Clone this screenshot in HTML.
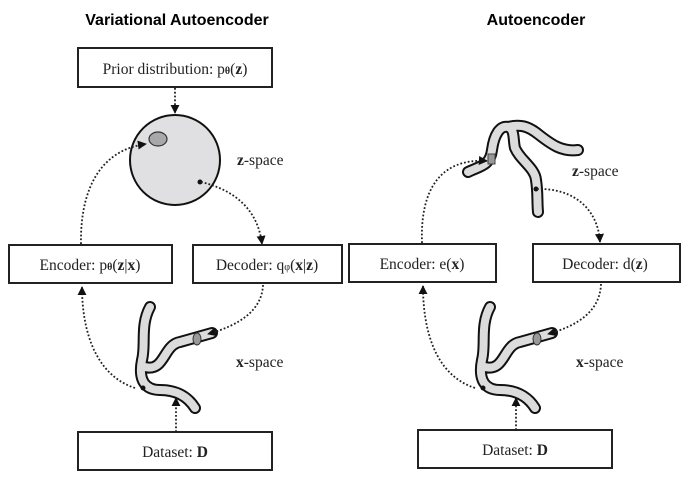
<!DOCTYPE html>
<html><head><style>
body{margin:0;background:#fff;}
svg{display:block;}
.t{font-family:"Liberation Serif",serif;font-size:15.5px;fill:#222;}
.h{font-family:"Liberation Sans",sans-serif;font-size:16px;font-weight:bold;fill:#000;}
.b{fill:#fff;stroke:#222;stroke-width:2;}
.d{fill:none;stroke:#222;stroke-width:1.8;stroke-dasharray:1.8 2;}
</style></head><body>
<svg width="688" height="480" viewBox="0 0 688 480">
<defs><marker id="a" viewBox="0 0 10 10" refX="9" refY="5" markerWidth="5" markerHeight="5" orient="auto"><path d="M0,0L10,5L0,10z" fill="#111"/></marker></defs>
<text class="h" x="177" y="25" text-anchor="middle">Variational Autoencoder</text>
<text class="h" x="536" y="25" text-anchor="middle">Autoencoder</text>

<!-- left -->
<rect class="b" x="78" y="48" width="194" height="39"/>
<text class="t" x="175" y="74" text-anchor="middle">Prior distribution: p<tspan font-size="10" font-weight="bold">θ</tspan>(<tspan font-weight="bold">z</tspan>)</text>
<path class="d" d="M175,88 V113" marker-end="url(#a)"/>
<circle cx="175" cy="160" r="45" fill="#e0e0e2" stroke="#111" stroke-width="2"/>
<ellipse cx="158" cy="139" rx="9" ry="7" fill="#a8a8a8" stroke="#333" stroke-width="1.2"/>
<circle cx="200" cy="182" r="2.5" fill="#111"/>
<text class="t" x="237" y="165"><tspan font-weight="bold">z</tspan>-space</text>
<path class="d" d="M81,244 C80,190 100,150 146,144" marker-end="url(#a)"/>
<path class="d" d="M201,182 C235,190 258,210 262,244" marker-end="url(#a)"/>
<rect class="b" x="9" y="245" width="163" height="38"/>
<text class="t" x="90" y="270" text-anchor="middle">Encoder: p<tspan font-size="10" font-weight="bold">θ</tspan>(<tspan font-weight="bold">z</tspan>|<tspan font-weight="bold">x</tspan>)</text>
<rect class="b" x="193" y="245" width="149" height="38"/>
<text class="t" x="267" y="270" text-anchor="middle">Decoder: q<tspan font-size="10">φ</tspan>(<tspan font-weight="bold">x</tspan>|<tspan font-weight="bold">z</tspan>)</text>
<g fill="none" stroke-linecap="round">
<path d="M150,307 C140,325 146,345 142,360 C138,380 145,390 160,390 C180,390 190,400 195,408 M145,367 C165,372 163,345 180,342 L212,333" stroke="#111" stroke-width="12"/>
<path d="M150,307 C140,325 146,345 142,360 C138,380 145,390 160,390 C180,390 190,400 195,408 M145,367 C165,372 163,345 180,342 L212,333" stroke="#dcdcdc" stroke-width="8"/>
</g>
<ellipse cx="197" cy="339" rx="4" ry="6" fill="#999" stroke="#333"/>
<circle cx="143" cy="388" r="2.5" fill="#111"/>
<path class="d" d="M263,285 C262,310 240,325 208,334" marker-end="url(#a)"/>
<path class="d" d="M135,388 C95,375 82,330 82,287" marker-end="url(#a)"/>
<path class="d" d="M176,432 V398" marker-end="url(#a)"/>
<text class="t" x="236" y="367"><tspan font-weight="bold">x</tspan>-space</text>
<rect class="b" x="78" y="432" width="194" height="38"/>
<text class="t" x="175" y="457" text-anchor="middle">Dataset: <tspan font-weight="bold">D</tspan></text>

<!-- right -->
<g fill="none" stroke-linecap="round">
<path d="M468,172 C480,166 490,166 492,150 C494,135 500,125 508,127 C515,129 513,140 515,148 C520,160 535,168 536,180 C538,192 537,202 538,212 M508,127 C520,124 528,126 538,134 C552,145 562,152 578,150" stroke="#111" stroke-width="12"/>
<path d="M468,172 C480,166 490,166 492,150 C494,135 500,125 508,127 C515,129 513,140 515,148 C520,160 535,168 536,180 C538,192 537,202 538,212 M508,127 C520,124 528,126 538,134 C552,145 562,152 578,150" stroke="#dcdcdc" stroke-width="8"/>
</g>
<rect x="488" y="154" width="7" height="10" fill="#999" stroke="#444"/>
<circle cx="536" cy="189" r="2.5" fill="#111"/>
<text class="t" x="572" y="176"><tspan font-weight="bold">z</tspan>-space</text>
<path class="d" d="M422,243 C420,190 440,158 487,161" marker-end="url(#a)"/>
<path class="d" d="M537,189 C575,188 598,210 600,242" marker-end="url(#a)"/>
<rect class="b" x="349" y="244" width="147" height="38"/>
<text class="t" x="422" y="269" text-anchor="middle">Encoder: e(<tspan font-weight="bold">x</tspan>)</text>
<rect class="b" x="533" y="244" width="147" height="38"/>
<text class="t" x="605" y="269" text-anchor="middle">Decoder: d(<tspan font-weight="bold">z</tspan>)</text>
<g fill="none" stroke-linecap="round">
<path d="M490,307 C480,325 486,345 482,360 C478,380 485,390 500,390 C520,390 530,400 535,408 M485,367 C505,372 503,345 520,342 L552,333" stroke="#111" stroke-width="12"/>
<path d="M490,307 C480,325 486,345 482,360 C478,380 485,390 500,390 C520,390 530,400 535,408 M485,367 C505,372 503,345 520,342 L552,333" stroke="#dcdcdc" stroke-width="8"/>
</g>
<ellipse cx="537" cy="339" rx="4" ry="6" fill="#999" stroke="#333"/>
<circle cx="483" cy="388" r="2.5" fill="#111"/>
<path class="d" d="M601,284 C600,310 580,325 548,334" marker-end="url(#a)"/>
<path class="d" d="M475,388 C435,375 423,330 423,286" marker-end="url(#a)"/>
<path class="d" d="M516,430 V398" marker-end="url(#a)"/>
<text class="t" x="576" y="367"><tspan font-weight="bold">x</tspan>-space</text>
<rect class="b" x="418" y="430" width="194" height="38"/>
<text class="t" x="515" y="455" text-anchor="middle">Dataset: <tspan font-weight="bold">D</tspan></text>
</svg>
</body></html>
